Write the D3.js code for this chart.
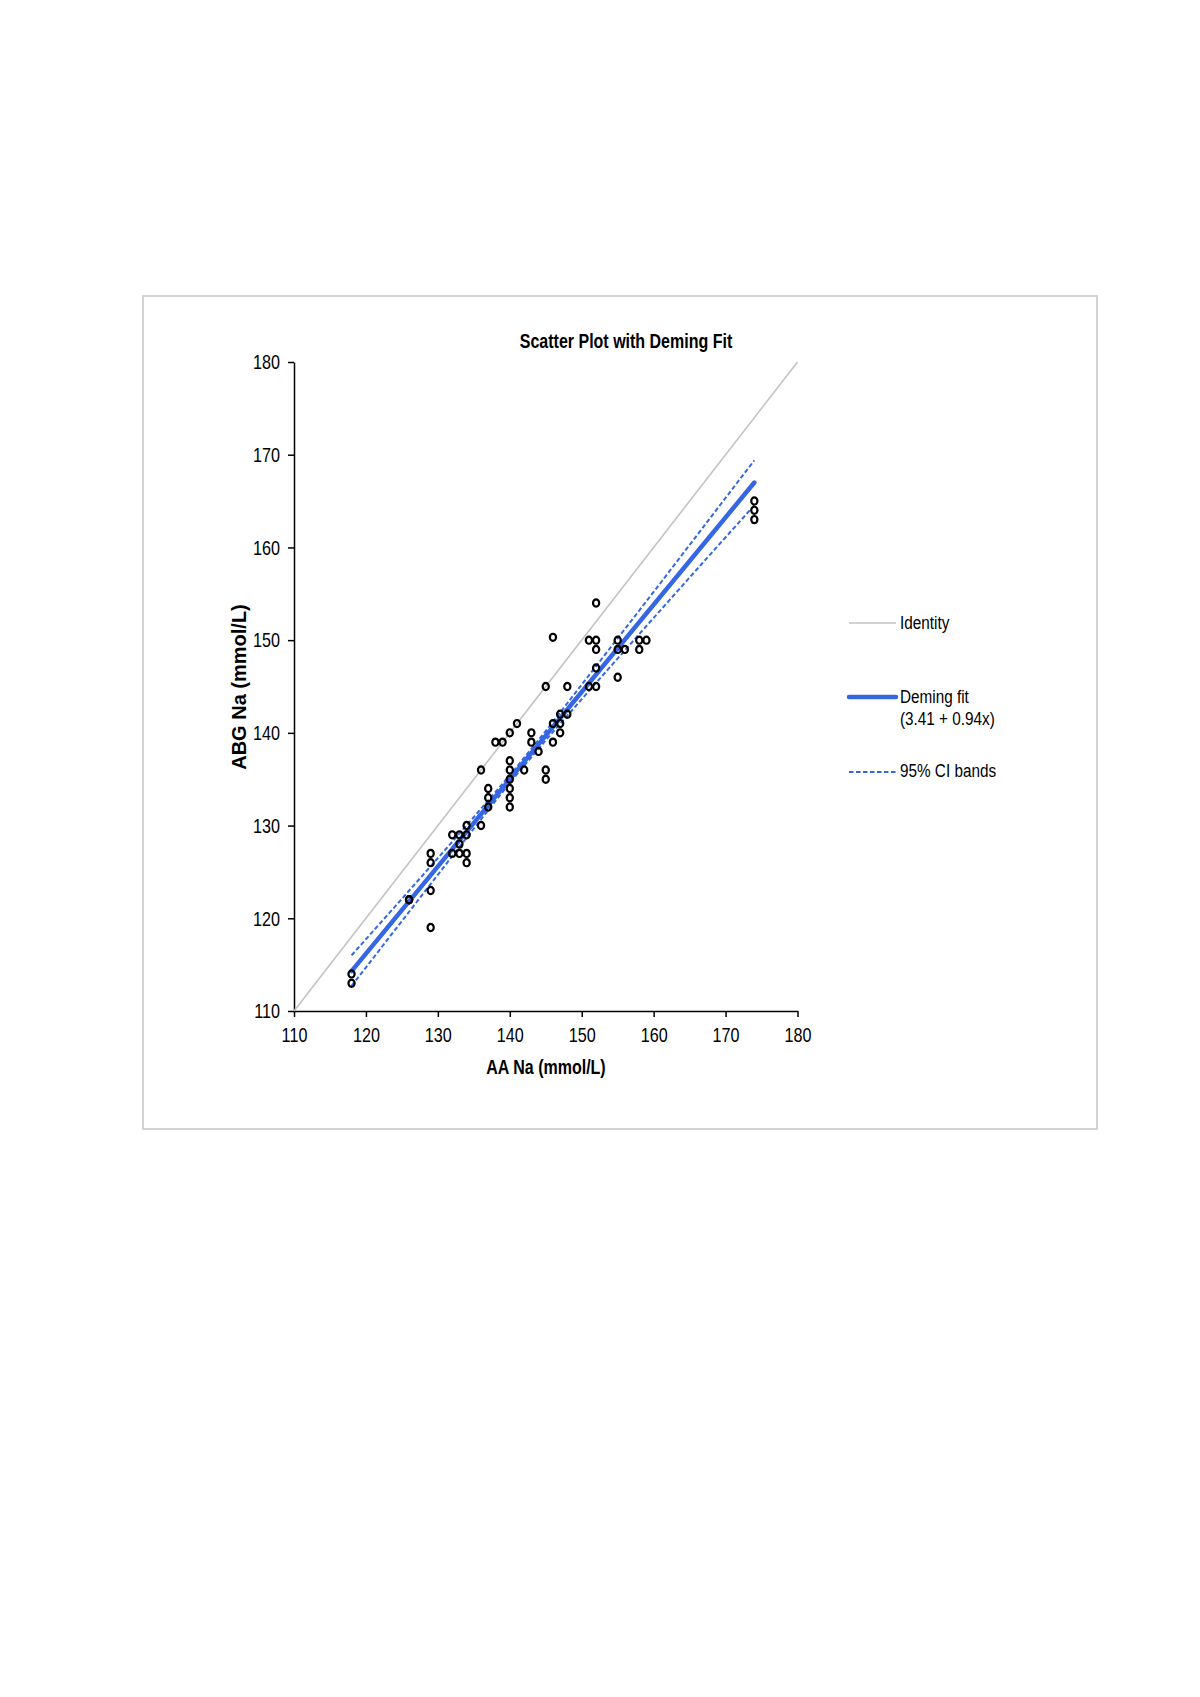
<!DOCTYPE html>
<html>
<head>
<meta charset="utf-8">
<script src="https://cdn.jsdelivr.net/npm/d3@7"></script>
<style>
  body { margin: 0; background: #fff; }
  .axis path, .axis line { stroke: #000; stroke-width: 1.5; }
  .axis text { font-family: "Liberation Sans", Arial, sans-serif; font-size: 21px; fill: #000; }
</style>
</head>
<body>
<div id="chart"></div>
<script>
// AA Na (x) vs ABG Na (y)
var aaNa = [118, 118, 126, 126, 129, 129, 129, 129, 132, 132, 133, 133, 133, 134, 134, 134, 134,
    136, 136, 137, 137, 137, 138, 139, 140, 140, 140, 140, 140, 140, 140, 141, 142, 143, 143,
    144, 145, 145, 145, 146, 146, 146, 147, 147, 147, 148, 148, 151, 151, 152, 152, 152, 152,
    152, 155, 155, 155, 156, 158, 158, 159, 174, 174, 174];
var abgNa = [114, 113, 122, 122, 127, 126, 123, 119, 129, 127, 129, 128, 127, 130, 129, 127, 126,
    130, 136, 134, 133, 132, 139, 139, 140, 137, 136, 135, 134, 133, 132, 141, 136, 140, 139,
    138, 145, 136, 135, 150.3, 141, 139, 142, 141, 140, 145, 142, 150, 145, 154, 150, 149, 147,
    145, 150, 149, 146, 149, 150, 149, 150, 165, 164, 163];

var xTicks = [110, 120, 130, 140, 150, 160, 170, 180];
var yTicks = [110, 120, 130, 140, 150, 160, 170, 180];

// Deming fit line (3.41 + 0.94x) end points
var fitX = [118, 174];
var fitY = [114.3, 167.0];

// 95% CI bands, read at a few x positions
var bandX = [118, 125, 132, 138, 141, 145, 152, 160, 167, 174];
var bandUpper = [116.0, 122.1, 128.25, 133.6, 136.35, 140.2, 147.2, 155.2, 162.3, 169.4];
var bandLower = [112.7, 119.7, 126.7, 132.65, 135.55, 139.2, 145.4, 152.4, 158.5, 164.55];

var identityX = [110, 180];

var legendLabels = ["Identity", "Deming fit", "(3.41 + 0.94x)", "95% CI bands"];

var blue = "#3567e4";

// squeeze text horizontally (no narrow font available)
function narrow(sel, k) {
    sel.each(function () {
        var w = this.getComputedTextLength();
        d3.select(this).attr("textLength", w * k).attr("lengthAdjust", "spacingAndGlyphs");
    });
}

var svg = d3.select("#chart").append("svg")
    .attr("width", 1200)
    .attr("height", 1697);

// outer frame
svg.append("rect")
    .attr("x", 143).attr("y", 296)
    .attr("width", 954).attr("height", 833)
    .attr("fill", "#fff")
    .attr("stroke", "#d4d4d4")
    .attr("stroke-width", 2);

var x = d3.scaleLinear().domain([110, 180]).range([294, 797.5]);
var y = d3.scaleLinear().domain([110, 180]).range([1011, 362]);

var gx = svg.append("g")
    .attr("class", "axis")
    .attr("transform", "translate(0,1011)")
    .call(d3.axisBottom(x).tickValues(xTicks).tickSize(6).tickPadding(10).tickSizeOuter(0));
gx.selectAll("text").call(narrow, 0.77);

var gy = svg.append("g")
    .attr("class", "axis")
    .attr("transform", "translate(294,0)")
    .call(d3.axisLeft(y).tickValues(yTicks).tickSize(6).tickPadding(8).tickSizeOuter(0));
gy.selectAll("text").call(narrow, 0.77);

// title and axis labels
svg.append("text")
    .attr("x", 626).attr("y", 348)
    .attr("text-anchor", "middle")
    .style("font-family", "'Liberation Sans', Arial, sans-serif")
    .style("font-weight", "bold")
    .style("font-size", "20px")
    .text("Scatter Plot with Deming Fit")
    .call(narrow, 0.8);

svg.append("text")
    .attr("x", 546).attr("y", 1074)
    .attr("text-anchor", "middle")
    .style("font-family", "'Liberation Sans', Arial, sans-serif")
    .style("font-weight", "bold")
    .style("font-size", "20px")
    .text("AA Na (mmol/L)")
    .call(narrow, 0.8);

svg.append("text")
    .attr("transform", "translate(246,687) rotate(-90)")
    .attr("text-anchor", "middle")
    .style("font-family", "'Liberation Sans', Arial, sans-serif")
    .style("font-weight", "bold")
    .style("font-size", "20px")
    .text("ABG Na (mmol/L)");

var line = d3.line()
    .x(function (d) { return x(d[0]); })
    .y(function (d) { return y(d[1]); });

// identity
svg.append("path")
    .attr("d", line(identityX.map(function (v) { return [v, v]; })))
    .attr("fill", "none")
    .attr("stroke", "#c3c3c3")
    .attr("stroke-width", 1.6);

// CI bands
[bandUpper, bandLower].forEach(function (b) {
    svg.append("path")
        .attr("d", line(bandX.map(function (v, i) { return [v, b[i]]; })))
        .attr("fill", "none")
        .attr("stroke", blue)
        .attr("stroke-width", 2)
        .attr("stroke-dasharray", "4.5,2.5");
});

// Deming fit
svg.append("path")
    .attr("d", line(fitX.map(function (v, i) { return [v, fitY[i]]; })))
    .attr("fill", "none")
    .attr("stroke", blue)
    .attr("stroke-width", 4.5)
    .attr("stroke-linecap", "round");

// points
svg.selectAll(".pt")
    .data(aaNa.map(function (v, i) { return [v, abgNa[i]]; }))
    .enter().append("ellipse")
    .attr("class", "pt")
    .attr("cx", function (d) { return x(d[0]); })
    .attr("cy", function (d) { return y(d[1]); })
    .attr("rx", 3.1)
    .attr("ry", 3.6)
    .attr("fill", "none")
    .attr("stroke", "#000")
    .attr("stroke-width", 2.2);

// legend
var lg = svg.append("g")
    .style("font-family", "'Liberation Sans', Arial, sans-serif")
    .style("font-size", "18px");

lg.append("line").attr("x1", 849).attr("x2", 896).attr("y1", 623).attr("y2", 623)
    .attr("stroke", "#c3c3c3").attr("stroke-width", 1.6);
lg.append("text").attr("x", 900).attr("y", 629).text(legendLabels[0]);

lg.append("line").attr("x1", 849).attr("x2", 896).attr("y1", 697).attr("y2", 697)
    .attr("stroke", blue).attr("stroke-width", 4.5).attr("stroke-linecap", "round");
lg.append("text").attr("x", 900).attr("y", 703).text(legendLabels[1]);
lg.append("text").attr("x", 900).attr("y", 725).text(legendLabels[2]);

lg.append("line").attr("x1", 849).attr("x2", 896).attr("y1", 772).attr("y2", 772)
    .attr("stroke", blue).attr("stroke-width", 1.8).attr("stroke-dasharray", "4.5,2.5");
lg.append("text").attr("x", 900).attr("y", 777).text(legendLabels[3]);

lg.selectAll("text").call(narrow, 0.85);
</script>
</body>
</html>
